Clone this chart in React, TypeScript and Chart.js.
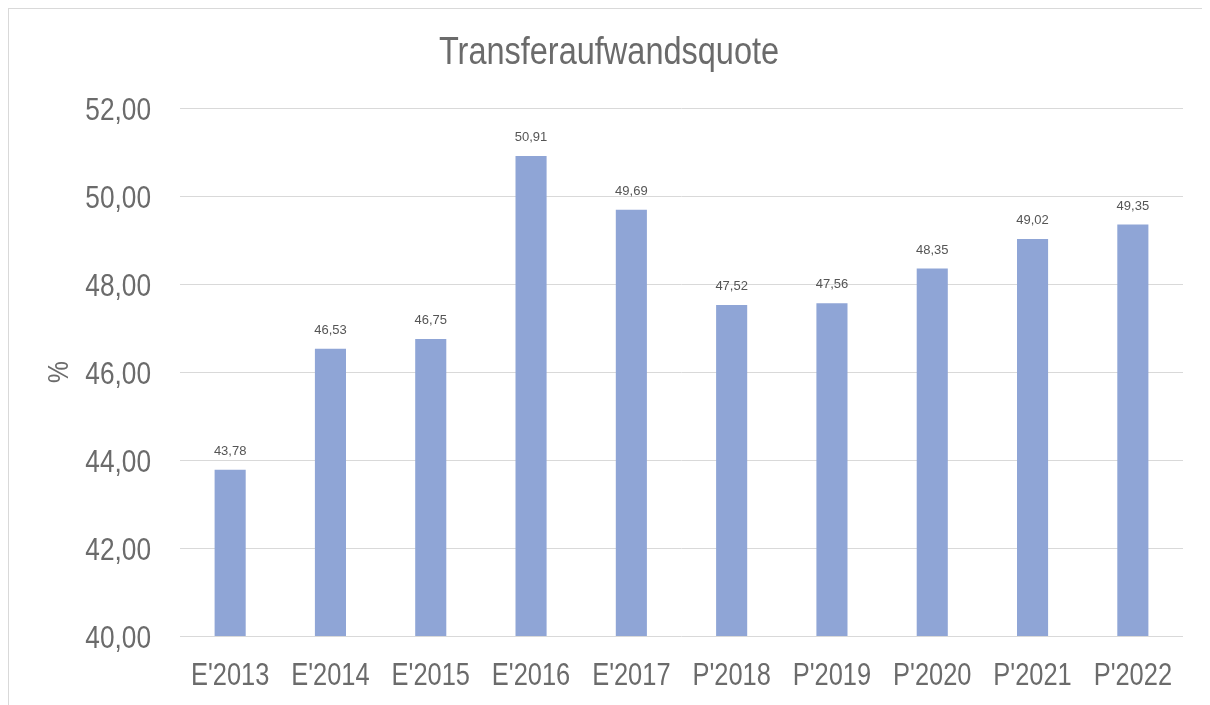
import React, { useEffect, useRef } from "react";
import { Chart, registerables } from "chart.js";

Chart.register(...registerables);

const categories = ["E'2013", "E'2014", "E'2015", "E'2016", "E'2017", "P'2018", "P'2019", "P'2020", "P'2021", "P'2022"];
const values = [43.78, 46.53, 46.75, 50.91, 49.69, 47.52, 47.56, 48.35, 49.02, 49.35];
const yMin = 40;
const yMax = 52;
const yStep = 2;
const chartTitle = "Transferaufwandsquote";
const yTitle = "%";

const FONT = '"Liberation Sans", Arial, sans-serif';
const TEXT = "#6b6b6b";
const NARROW = 0.82;

const fmt = (v: number) => v.toFixed(2).replace(".", ",");

function narrowText(ctx: any, text: string, x: number, y: number, size: number, align: string, rotate = 0, baseline = "alphabetic", ratio = NARROW) {
  ctx.save();
  ctx.translate(x, y);
  if (rotate) ctx.rotate(rotate);
  ctx.scale(ratio, 1);
  ctx.font = `${size}px ${FONT}`;
  ctx.textAlign = align;
  ctx.textBaseline = baseline;
  ctx.fillText(text, 0, 0);
  ctx.restore();
}

const textPlugin = {
  id: "textPlugin",
  afterDraw(chart: any) {
    const ctx = chart.ctx;
    const xs = chart.scales.x;
    const ys = chart.scales.y;
    ctx.save();
    ctx.fillStyle = TEXT;
    // title
    narrowText(ctx, chartTitle, 600, 55, 38, "center", 0, "alphabetic", 0.855);
    // y ticks
    ys.ticks.forEach((t: any) => {
      const y = ys.getPixelForValue(t.value);
      narrowText(ctx, fmt(t.value), ys.right - 29, y + 11.5, 32, "right");
    });
    // x ticks
    categories.forEach((c, i) => {
      const x = xs.getPixelForTick(i);
      narrowText(ctx, c, x, xs.top + 49, 31, "center");
    });
    // y title
    narrowText(ctx, yTitle, 51, (ys.top + ys.bottom) / 2, 30, "center", -Math.PI / 2, "middle");
    // data labels
    const meta = chart.getDatasetMeta(0);
    ctx.font = `13px ${FONT}`;
    ctx.fillStyle = "#555555";
    ctx.textAlign = "center";
    ctx.textBaseline = "alphabetic";
    meta.data.forEach((bar: any, i: number) => {
      ctx.fillText(fmt(values[i]), bar.x, bar.y - 15);
    });
    ctx.restore();
  },
};

export default function App() {
  const ref = useRef<HTMLCanvasElement | null>(null);
  useEffect(() => {
    if (!ref.current) return;
    const chart = new Chart(ref.current, {
      type: "bar",
      data: {
        labels: categories,
        datasets: [
          {
            data: values,
            backgroundColor: "#8FA5D6",
            borderWidth: 0,
            categoryPercentage: 1,
            barPercentage: 0.31,
          },
        ],
      },
      options: {
        animation: false,
        responsive: false,
        maintainAspectRatio: false,
        layout: { padding: { left: 0, right: 27, top: 99, bottom: 0 } },
        plugins: {
          legend: { display: false },
          tooltip: { enabled: false },
          title: { display: false },
        },
        scales: {
          x: {
            grid: { display: false },
            border: { display: false },
            ticks: { display: false },
            afterFit: (scale: any) => {
              scale.height = 69;
            },
          },
          y: {
            min: yMin,
            max: yMax,
            grid: { color: "#d9d9d9", lineWidth: 1, drawTicks: false },
            border: { display: false },
            ticks: { display: false, stepSize: yStep },
            afterFit: (scale: any) => {
              scale.width = 171;
            },
          },
        },
      },
      plugins: [textPlugin],
    });
    return () => chart.destroy();
  }, []);

  return (
    <div
      style={{
        width: 1201,
        height: 697,
        borderTop: "1px solid #d9d9d9",
        borderLeft: "1px solid #d9d9d9",
        background: "#fff",
        overflow: "hidden",
      }}
    >
      <canvas ref={ref} width={1201} height={696} style={{ display: "block", width: 1201, height: 696 }} />
    </div>
  );
}
